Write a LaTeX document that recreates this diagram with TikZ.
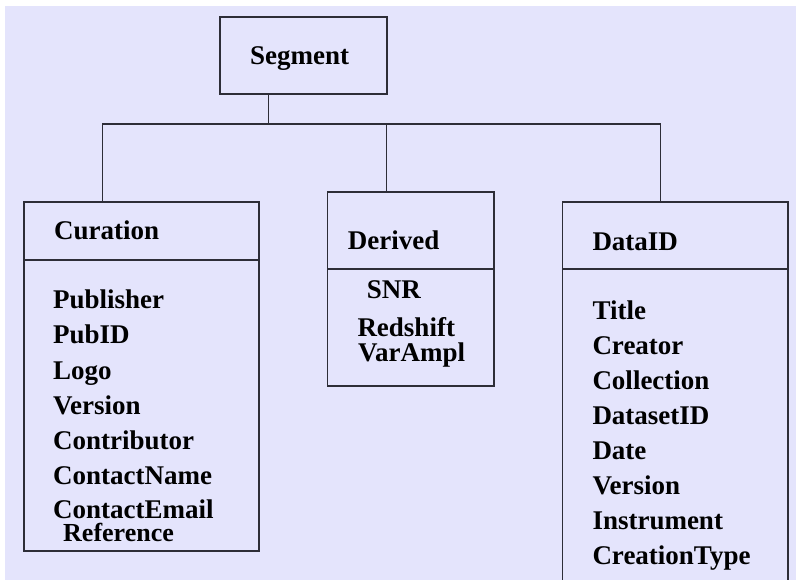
\documentclass[tikz,border=0pt]{standalone}
\usepackage{fontspec}
\setmainfont{Liberation Serif}
\definecolor{bgc}{RGB}{228,228,252}
\definecolor{linec}{RGB}{45,45,55}
\newcommand{\lbfont}{\fontsize{27}{27}\selectfont\bfseries}
\newcommand{\lbsmallfont}{\fontsize{26}{26}\selectfont\bfseries}
\tikzset{
  box/.style={draw=linec, line width=1.1pt, rectangle, inner sep=0pt, outer sep=0pt, anchor=north west},
  lbl/.style={font=\lbfont, anchor=base west, inner sep=0pt, text=black},
  conn/.style={draw=linec, line width=1.1pt},
  divider/.style={draw=linec, line width=1.1pt}
}
\begin{document}
\begin{tikzpicture}[x=1pt,y=-1pt]
\useasboundingbox (0,0) rectangle (796,580);
\clip (0,0) rectangle (796,580);
\fill[bgc] (5,6) rectangle (796,580);

% boxes
\node[box, minimum width=167pt, minimum height=77pt] (seg) at (220,17) {};
\node[box, minimum width=235pt, minimum height=349pt] (cur) at (24,202) {};
\node[box, minimum width=166.3pt, minimum height=194pt] (der) at (327.7,192) {};
\node[box, minimum width=225.3pt, minimum height=420pt] (dat) at (562.7,202) {};

% dividers
\draw[divider] (cur.west |- 0,260) -- (cur.east |- 0,260);
\draw[divider] (der.west |- 0,269) -- (der.east |- 0,269);
\draw[divider] (dat.west |- 0,269) -- (dat.east |- 0,269);

% connectors
\coordinate (jS) at (268.7,124);
\coordinate (jL) at (102.3,124);
\coordinate (jM) at (386.7,124);
\coordinate (jR) at (660.7,124);
\draw[conn] (seg.south -| jS) -- (jS);
\draw[conn] (jL) -- (jR);
\draw[conn] (jL) -- (jL |- cur.north);
\draw[conn] (jM) -- (jM |- der.north);
\draw[conn] (jR) -- (jR |- dat.north);

% texts
\node[lbl] (tseg) at (250,65) {Segment};

\node[lbl] (tcur) at (54,240) {Curation};
\node[lbl] (c1) at (53,308.8) {Publisher};
\node[lbl] (c2) at (53,344) {PubID};
\node[lbl] (c3) at (53,379) {Logo};
\node[lbl] (c4) at (53,414) {Version};
\node[lbl] (c5) at (53,449.3) {Contributor};
\node[lbl] (c6) at (53,484.3) {ContactName};
\node[lbl] (c7) at (53,518.5) {ContactEmail};
\node[lbl, font=\lbsmallfont] (c8) at (63,541.5) {Reference};

\node[lbl] (tder) at (347.7,250) {Derived};
\node[lbl] (d1) at (366.7,298.5) {SNR};
\node[lbl] (d2) at (357.3,336.7) {Redshift};
\node[lbl] (d3) at (358,361.7) {VarAmpl};

\node[lbl] (tdat) at (592.3,250.5) {DataID};
\node[lbl] (e1) at (592.3,319.3) {Title};
\node[lbl] (e2) at (592.3,354.6) {Creator};
\node[lbl] (e3) at (592.3,389.3) {Collection};
\node[lbl] (e4) at (592.3,424.3) {DatasetID};
\node[lbl] (e5) at (592.3,459.3) {Date};
\node[lbl] (e6) at (592.3,494.3) {Version};
\node[lbl] (e7) at (592.3,529.3) {Instrument};
\node[lbl] (e8) at (592.3,564.3) {CreationType};
\end{tikzpicture}
\end{document}
